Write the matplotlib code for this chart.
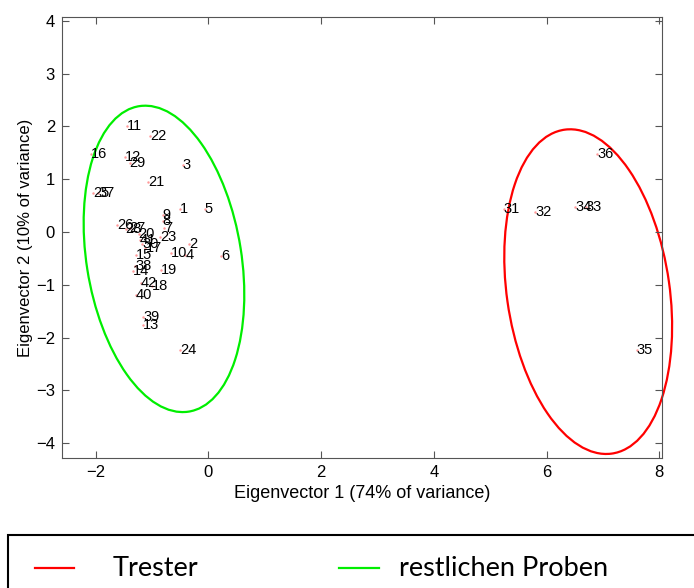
#!/usr/bin/env python3
"""PCA score plot: Trester samples vs. the rest, with group ellipses."""

import matplotlib
matplotlib.use("Agg")
import matplotlib.pyplot as plt
from matplotlib.lines import Line2D
from matplotlib.patches import Ellipse, Rectangle

# sample scores (Eigenvector 1, Eigenvector 2)
sample_ids = [str(i) for i in range(1, 43)]
pc1 = [-0.51, -0.35, -0.46, -0.41, -0.07, 0.22, -0.79, -0.81, -0.81, -0.67,
       -1.44, -1.49, -1.16, -1.34, -1.28, -2.08, -1.12, -1.00, -0.85, -1.24,
       -1.07, -1.03, -0.86, -0.50, -2.05, -1.62, -1.40, -1.47, -1.40, -1.18,
       5.24, 5.80, 6.70, 6.51, 7.60, 6.90, -1.96, -1.30, -1.16, -1.29,
       -1.22, -1.20]
pc2 = [0.44, -0.23, 1.27, -0.44, 0.44, -0.46, 0.07, 0.20, 0.33, -0.39,
       2.01, 1.42, -1.76, -0.73, -0.44, 1.47, -0.30, -1.02, -0.72, -0.03,
       0.95, 1.82, -0.09, -2.24, 0.73, 0.14, 0.08, 0.05, 1.30, -0.22,
       0.44, 0.37, 0.47, 0.47, -2.24, 1.48, 0.73, -0.65, -1.61, -1.19,
       -0.15, -0.97]

# group ellipses: center, full major/minor axis, angle (deg)
groups = ["Trester", "restlichen Proben"]
group_colors = ["#ff0000", "#00ee00"]
ell_center = [(6.74, -1.13), (-0.79, -0.51)]
ell_major = [6.19, 5.85]
ell_minor = [2.89, 2.75]
ell_angle = [97.6, 98.4]

xticks = [-2, 0, 2, 4, 6, 8]
yticks = [-4, -3, -2, -1, 0, 1, 2, 3, 4]

ARIAL = ["Liberation Sans", "DejaVu Sans"]
W, H = 694, 588

fig = plt.figure(figsize=(6.94, 5.88), dpi=100)
ax = fig.add_axes([62 / W, 130 / H, 600 / W, 441 / H])

ax.plot(pc1, pc2, ".", color="#ff9999", markersize=1.5)
for sid, x, y in zip(sample_ids, pc1, pc2):
    ax.text(x, y, sid, ha="left", va="center", fontsize=10.5, family=ARIAL)

for c, w, h, a, col in zip(ell_center, ell_major, ell_minor, ell_angle, group_colors):
    ax.add_patch(Ellipse(c, w, h, angle=a, fill=False, edgecolor=col,
                         linewidth=1.6, clip_on=False))

ax.set_xlim(-2.6, 8.05)
ax.set_ylim(-4.28, 4.07)
ax.set_xticks(xticks)
ax.set_yticks(yticks)
ax.set_xticklabels([str(t).replace("-", "\u2212") for t in xticks])
ax.set_yticklabels([str(t).replace("-", "\u2212") for t in yticks])
ax.tick_params(direction="in", top=True, right=True, length=5, width=0.8,
               labelsize=12, color="#555555", pad=5)
for sp in ax.spines.values():
    sp.set_color("#555555")
    sp.set_linewidth(0.8)
for lab in ax.get_xticklabels() + ax.get_yticklabels():
    lab.set_family(ARIAL)

ax.set_xlabel("Eigenvector 1 (74% of variance)", fontsize=13, labelpad=4,
              family=ARIAL)
ax.set_ylabel("Eigenvector 2 (10% of variance)", fontsize=12, labelpad=2,
              family=ARIAL)

# legend box below the plot, running off the right/bottom edge
fig.add_artist(Rectangle((8 / W, -0.2), 1.0, 0.2 + 53 / H,
                         transform=fig.transFigure, fill=False,
                         edgecolor="black", linewidth=1.5, clip_on=False))
legend_line_x = [(35, 74), (339, 379)]
legend_text_x = [113, 399]
legend_y = 1 - 568 / H
for (x0, x1), tx, name, col in zip(legend_line_x, legend_text_x, groups, group_colors):
    fig.add_artist(Line2D([x0 / W, x1 / W], [legend_y, legend_y],
                          transform=fig.transFigure, color=col, linewidth=1.6))
    fig.text(tx / W, legend_y, name, ha="left", va="center",
             family="Lato", fontsize=19.5)

fig.savefig("out.png", dpi=100)
